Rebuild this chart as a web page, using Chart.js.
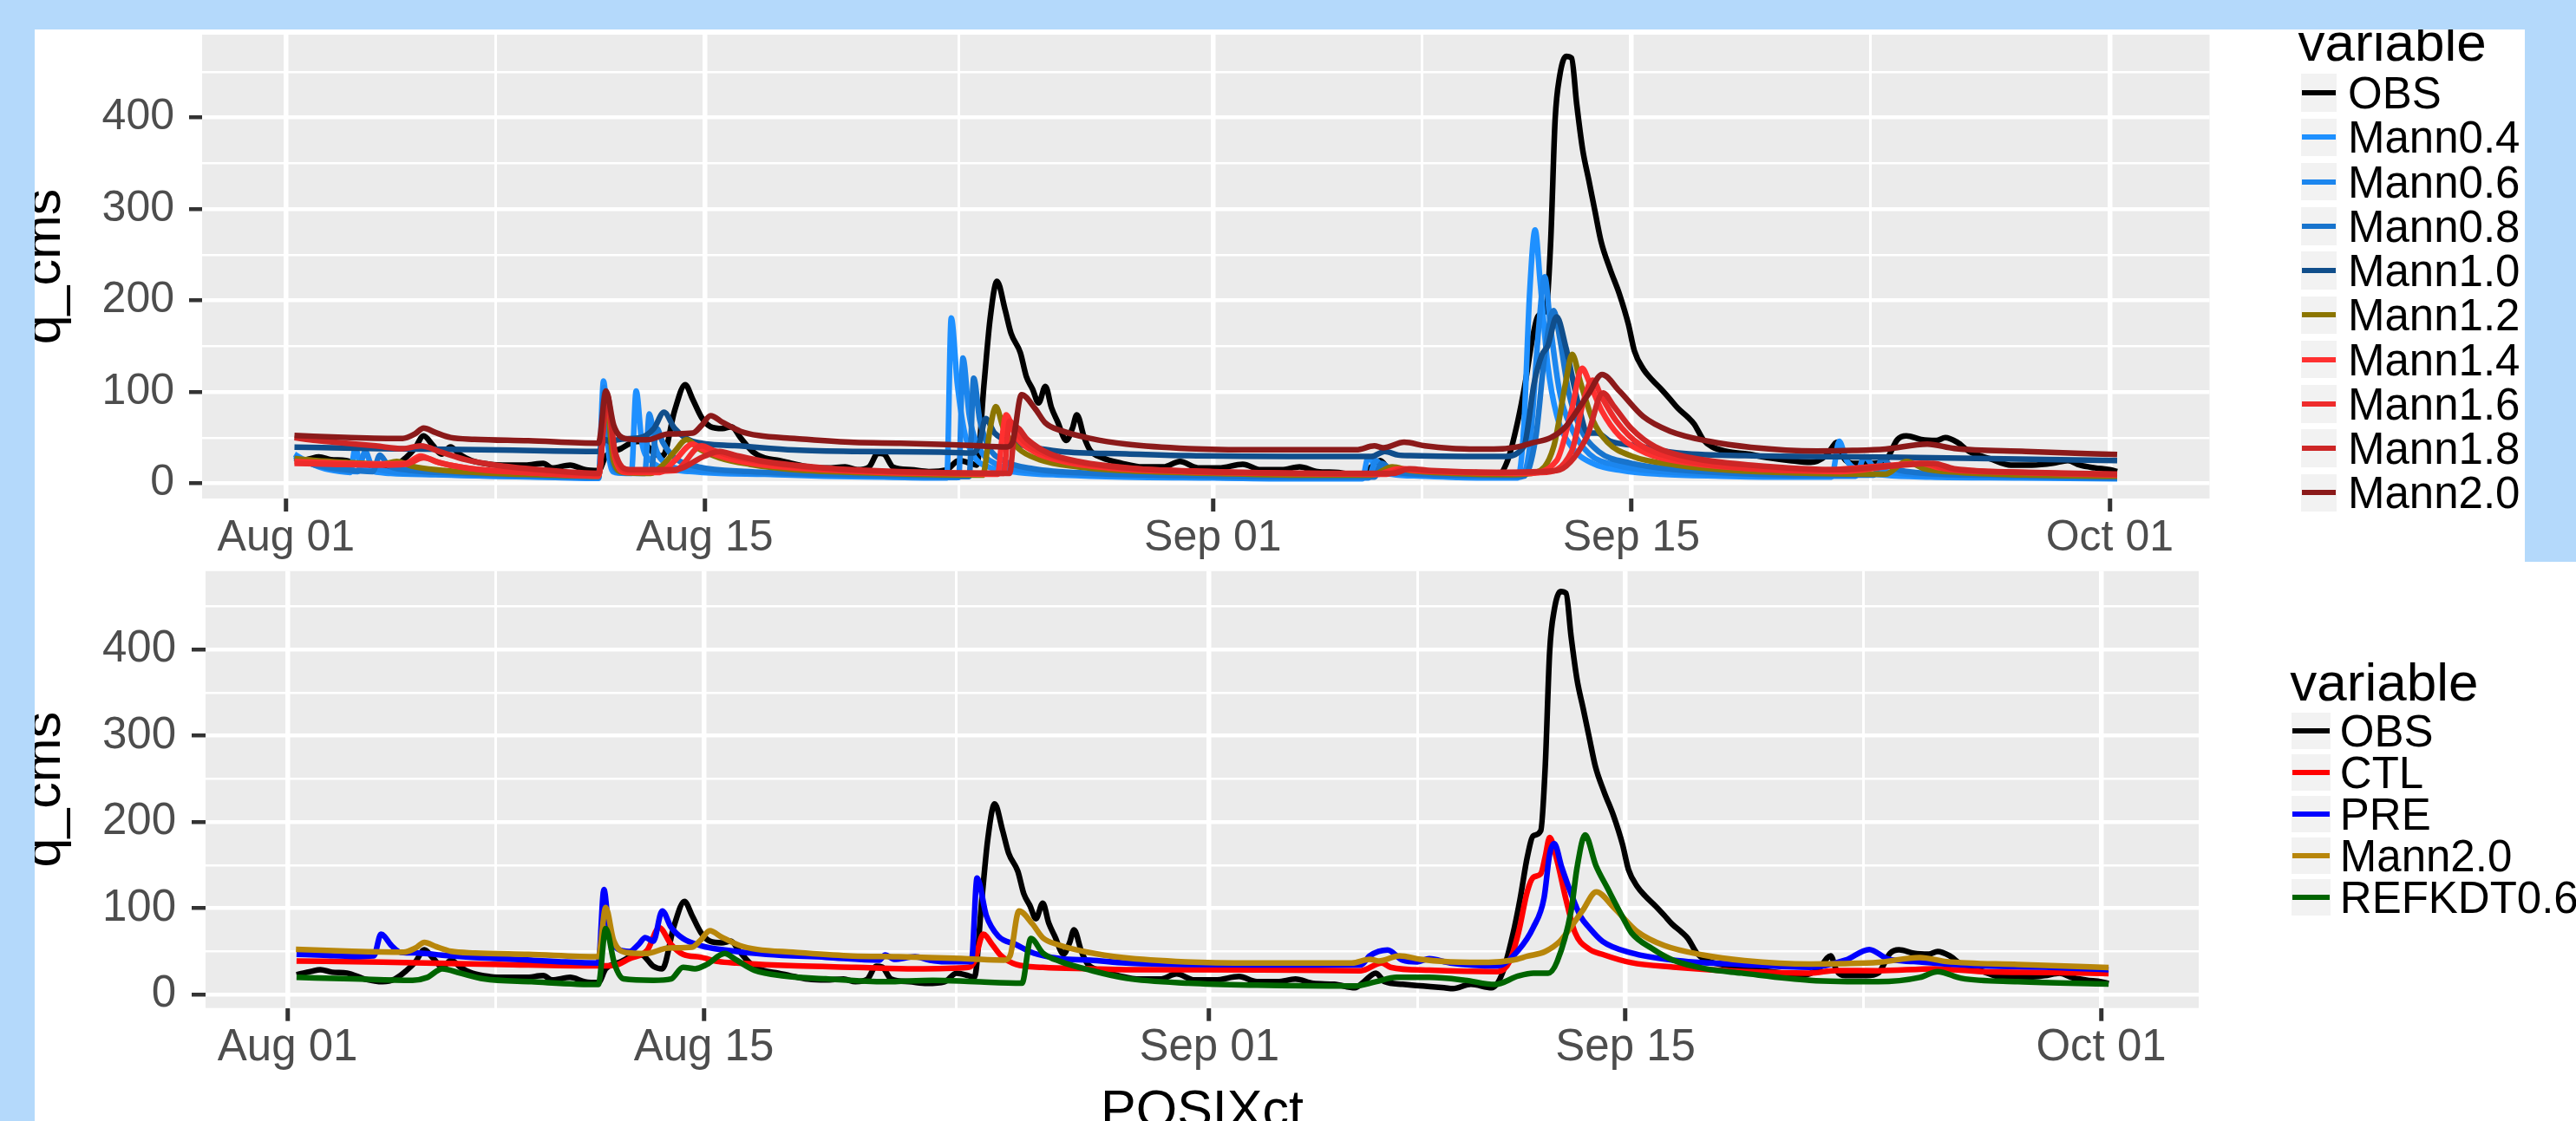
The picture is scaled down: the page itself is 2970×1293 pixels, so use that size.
<!DOCTYPE html>
<html><head><meta charset="utf-8">
<script src="https://cdn.jsdelivr.net/npm/chart.js@4.4.1/dist/chart.umd.min.js"></script>
<style>
html,body{margin:0;padding:0;}
body{width:2970px;height:1293px;overflow:hidden;background:#B4D9FB;position:relative;font-family:"Liberation Sans",Arial,sans-serif;}
.panel{position:absolute;background:#fff;overflow:hidden;}
#top{left:40px;top:34px;width:2871px;height:614px;}
#bot{left:40px;top:648px;width:2930px;height:645px;}
canvas{position:absolute;left:-40px;top:-60px;}
.lg{position:absolute;line-height:1;white-space:nowrap;color:#000;font-family:"Liberation Sans",Arial,sans-serif;}
.key{position:absolute;background:#F2F2F2;}
.key i{position:absolute;display:block;left:1px;right:1px;top:50%;height:6px;margin-top:-3px;}
</style></head><body>
<div id="top" class="panel"><canvas id="c1" width="2600" height="760"></canvas></div>
<div id="bot" class="panel"><canvas id="c2" width="2600" height="760"></canvas></div>
<script>
// ---------- axis tick definitions (days since Aug 01) ----------
const xMajorDays = [0, 14, 31, 45, 61];
const xMajorLabels = ['Aug 01', 'Aug 15', 'Sep 01', 'Sep 15', 'Oct 01'];
const xMinorDays = [7, 22.5, 38, 53];
const yMajorValues = [0, 100, 200, 300, 400];
const yMinorValues = [50, 150, 250, 350, 450];

// ---------- series: [day since Aug 01, q_cms] ----------
const obs = [[0.3,23],[0.8,27],[1.1,29],[1.5,26],[2.0,25],[2.6,18],[3.2,15],[3.6,18],[4.0,28],[4.3,38],[4.6,52],[4.9,42],[5.2,32],[5.5,40],[5.8,32],[6.2,25],[6.8,21],[7.4,20],[8.0,20],[8.6,22],[8.9,17],[9.5,20],[10.0,15],[10.45,14],[10.7,30],[11.2,38],[11.6,45],[11.9,46],[12.3,33],[12.6,30],[13.0,80],[13.35,108],[13.6,92],[13.9,72],[14.2,62],[14.6,60],[14.9,62],[15.2,50],[15.6,35],[16.0,28],[16.5,25],[16.9,22],[17.5,18],[18.1,17],[18.7,18],[19.1,15],[19.5,18],[19.8,33],[20.0,32],[20.3,18],[20.9,15],[21.5,13],[22.1,15],[22.5,25],[22.9,22],[23.1,20],[23.35,110],[23.55,180],[23.78,221],[24.05,190],[24.25,164],[24.56,143],[24.76,117],[24.97,103],[25.17,88],[25.4,106],[25.6,83],[25.8,68],[26.1,47],[26.3,60],[26.45,75],[26.7,50],[26.9,36],[27.3,28],[27.95,22],[28.65,18],[29.35,18],[29.9,24],[30.5,17],[31.2,17],[32.0,21],[32.6,15],[33.3,15],[33.9,18],[34.5,13],[35.2,12],[35.9,8],[36.2,15],[36.6,25],[36.9,15],[37.5,12],[38.2,10],[38.9,8],[39.2,7],[39.8,12],[40.5,8],[40.86,25],[41.2,68],[41.45,110],[41.7,160],[41.9,184],[42.15,190],[42.3,264],[42.45,398],[42.6,445],[42.82,467],[43.0,465],[43.17,415],[43.37,365],[43.58,331],[43.78,298],[43.99,264],[44.29,234],[44.6,207],[44.9,174],[45.1,145],[45.4,125],[45.7,113],[46.0,103],[46.3,92],[46.56,82],[46.9,72],[47.1,65],[47.4,48],[47.7,40],[48.2,35],[48.9,32],[49.6,28],[50.3,25],[51.0,23],[51.5,30],[51.9,45],[52.1,28],[52.4,22],[53.1,22],[53.5,25],[53.9,48],[54.2,52],[54.7,48],[55.2,47],[55.5,50],[55.9,45],[56.3,35],[57.0,27],[57.7,20],[58.4,20],[59.1,22],[59.6,25],[60.0,20],[60.5,17],[61.0,15],[61.25,13]];

const mann04 = [[0.28,32],[0.7,24],[1.2,17],[1.8,13],[2.15,12],[2.31,38],[2.5,20],[2.8,14],[3.5,11],[5,9.5],[7,8],[9,6.5],[10.45,5.5],[10.62,112],[10.8,30],[11.0,12],[11.55,11],[11.71,101],[11.9,45],[12.2,25],[12.8,16],[13.5,13],[14.5,11],[16,10],[18,8],[20,7],[22.1,6],[22.25,181],[22.45,110],[22.7,55],[23.0,30],[23.5,18],[24.5,12],[26,9],[28,7],[31,6],[34,5],[36.0,5],[36.2,29],[36.5,15],[37,10],[38,8],[40,6],[41.2,6],[41.4,60],[41.6,210],[41.78,277],[41.95,220],[42.2,130],[42.5,75],[43,40],[43.7,22],[44.7,14],[46,10],[48,8],[50,7],[51.7,7],[51.95,46],[52.2,25],[52.6,14],[53.5,9],[55,7],[58,6],[61.25,5]];
const mann06 = [[0.28,30],[0.8,22],[1.5,16],[2.4,13],[2.65,35],[2.85,20],[3.3,14],[5,10],[7,8],[9,7],[10.45,6],[10.64,105],[10.85,25],[11.1,12],[12.0,11],[12.15,76],[12.35,40],[12.7,22],[13.5,15],[15,12],[17,9.5],[20,7.5],[22.5,6.5],[22.64,137],[22.85,75],[23.2,38],[23.7,22],[24.7,14],[26.5,10],[29,8],[33,6],[36.2,6],[36.45,25],[36.8,14],[37.5,10],[39,8],[41.3,7],[41.6,40],[41.9,170],[42.1,226],[42.3,170],[42.6,100],[43.0,60],[43.6,32],[44.5,20],[46,13],[48,10],[50.5,8],[52.5,8],[52.8,29],[53.1,18],[54,11],[56,8],[59,6.5],[61.25,5.5]];
const mann08 = [[0.28,28],[1,20],[2,15],[2.9,13],[3.14,31],[3.4,20],[4,15],[6,11],[8,9],[10.45,7],[10.66,100],[10.9,25],[11.2,13],[12.2,12],[12.4,60],[12.6,45],[13.0,28],[13.8,18],[15.5,13],[18,10],[20.5,8.5],[22.85,7.5],[23.0,115],[23.2,70],[23.5,40],[24,25],[25,16],[27,11],[30,8.5],[34,7],[36.4,7],[36.65,22],[37,14],[38,10],[40,8.5],[41.4,8],[41.8,50],[42.1,140],[42.4,189],[42.6,160],[42.9,100],[43.3,60],[43.9,35],[45,22],[46.5,15],[48.5,11],[51,9],[53.1,9],[53.4,27],[53.7,18],[54.5,12],[57,9],[61.25,6]];
const mann10 = [[0.28,39.7],[3.1,38.1],[7.1,36.5],[10.45,34.9],[10.68,48],[10.9,44],[11.06,47.6],[11.85,50.2],[12.3,60],[12.64,77.8],[13.0,60],[13.6,46],[15,41.3],[17,36.5],[19,34.9],[21.9,34.3],[23.0,33.3],[23.2,45],[23.4,71],[23.7,55],[24.3,45],[25.9,35],[28.1,32.4],[30.2,30.4],[36.3,29.4],[36.75,35],[37.2,31],[37.6,30.4],[40.7,29.4],[41.4,40],[41.75,110],[42.0,140],[42.2,150],[42.5,182],[42.8,150],[43.2,90],[43.55,55],[43.85,55],[44.3,46],[45.1,41.5],[46.5,33.5],[48.8,30.4],[53.5,28.8],[57,27],[61.25,25]];
const mann12 = [[0.28,27],[1,25],[2,23],[3.2,21],[3.7,24],[4.2,19],[5,15],[7,11],[9,9],[10.45,8],[10.7,95],[10.95,25],[11.3,12],[12.2,11],[12.6,20],[13.0,35],[13.4,48],[13.8,38],[14.5,28],[15.5,21],[17,15],[19,12],[21,10],[23.3,9],[23.55,60],[23.74,84],[24.0,60],[24.5,38],[25.2,26],[26.5,18],[28,14],[31,11],[34,9],[36.3,9],[37,18],[37.6,14],[39,11],[41,9.5],[41.8,12],[42.4,40],[42.8,110],[43.02,141],[43.3,110],[43.7,70],[44.2,45],[45,30],[46.5,20],[48.5,14],[51,11],[53.5,10],[54.2,24],[54.8,16],[56,12],[58.5,9],[61.25,8]];
const mann14 = [[0.28,24],[1,23],[2,22],[3,21.5],[4,22],[4.5,30],[5,24],[6,17],[7.5,13],[9,10],[10.45,8],[10.72,98],[11.0,28],[11.4,12],[12.5,12],[13.0,25],[13.6,43],[14.0,36],[14.8,27],[16,20],[18,15],[20,12],[22,11],[23.8,10],[23.95,50],[24.08,75],[24.4,52],[25,35],[26,24],[27.5,17],[30,13],[33,11],[36.5,10],[37.2,16],[37.8,14],[39.5,12],[41.5,11],[42.5,25],[43.0,80],[43.35,126],[43.6,110],[44,80],[44.6,52],[45.5,33],[47,22],[49,16],[52,13],[54.7,22],[55.3,17],[57,13],[61.25,10]];
const mann16 = [[0.28,22],[1.5,21],[3,20],[4,21],[4.6,28],[5.2,22],[6.5,15],[8,12],[10.45,9],[10.73,96],[11.0,30],[11.5,13],[13,14],[13.9,41],[14.3,36],[15,29],[16.5,21],[18.5,15],[21,12],[24.0,11],[24.2,68],[24.5,52],[25.2,35],[26.3,24],[28,17],[31,13],[34,11],[36.8,10],[37.4,16],[38,14],[40,12],[42,12],[43,35],[43.4,90],[43.7,113],[44,95],[44.5,68],[45.3,42],[46.5,27],[48,19],[51,14],[54.9,22],[55.5,16],[58,12],[61.25,9]];
const mann18 = [[0.28,50],[1,47],[2,44],[3,41],[3.9,38],[4.5,41],[5.2,34],[6,26],[7,20],[8.5,15],[10.45,11],[10.74,97],[11.0,35],[11.5,15],[13,15],[14,30],[14.5,35],[15,31],[16,24],[18,17],[20.5,13],[24.2,11],[24.4,62],[24.8,48],[25.5,33],[26.5,24],[28.5,16],[32,12],[37,11],[37.6,16],[38.3,14],[40.5,12],[42.5,14],[43.5,50],[44.05,99],[44.4,85],[45,60],[45.8,40],[47,28],[49,20],[52,15],[55.1,22],[55.8,16],[58.5,12],[61.25,10]];
const mann20 = [[0.28,52.4],[2.16,50.2],[3.9,49.2],[4.3,54],[4.6,60.5],[5.0,55.6],[5.5,50.2],[6.3,48.3],[8.1,46.7],[10.45,44],[10.7,101],[10.96,63.5],[11.35,49],[12.05,47.6],[12.8,54],[13.6,55],[13.9,63.5],[14.2,74],[14.6,66.7],[15.2,57],[15.8,52.4],[17.0,49.2],[19.0,44.8],[20.55,44],[22.1,42.5],[22.9,41.5],[24.1,40],[24.3,45],[24.6,97],[25.05,82],[25.4,66],[25.9,58],[26.9,49.2],[28.1,42.9],[30.2,38],[32.5,36.7],[35.8,36.7],[36.4,41],[36.7,39],[37.4,45],[38.1,41],[39.0,38.3],[40.4,37.5],[41.2,40],[41.7,44.5],[42.3,50],[42.8,62],[43.2,80],[43.55,97],[44.02,119],[44.6,101],[45.4,73],[46.3,57],[47.6,46],[49,39.5],[51.2,35.5],[52.4,36],[53.5,37.5],[54.9,43],[55.8,38.3],[58.2,35],[61.25,31.5]];

const ctl = [[0.3,39],[3.2,37.7],[7.2,35],[10.4,33.3],[11.0,34],[11.5,41.7],[12.1,51.7],[12.5,77.7],[12.9,58],[13.3,46.7],[13.9,43.3],[14.5,38.3],[15.1,36.7],[17.1,33.3],[19.1,31.7],[21.1,30],[22.9,31.7],[23.1,38.3],[23.4,70],[23.7,58],[24.0,45],[24.5,35],[25.4,31.7],[27.0,30],[28.2,29],[30.3,29],[33.8,28.3],[36.1,27.7],[36.8,36.7],[37.1,31.7],[38.4,28.3],[40.7,26.7],[41.1,38.3],[41.4,72],[41.7,120],[41.9,136],[42.15,140],[42.3,160],[42.45,182],[42.7,155],[43.0,110],[43.3,72],[43.77,53],[44.2,47],[45.2,37],[46.6,32],[48.9,27],[51.2,25],[52.1,28],[53.5,27.7],[55.4,30],[57.0,26.7],[59.3,25.7],[61.25,24.3]];
const pre = [[0.3,46.7],[1.2,45.7],[2.2,44.3],[2.9,45],[3.14,70],[3.5,56.7],[3.8,49],[4.4,48.3],[5.2,45.7],[6.2,43.3],[7.2,41.7],[8.2,40],[9.1,38.3],[10.45,36.7],[10.64,121.7],[10.8,78],[11.1,53],[11.5,50],[11.8,58],[12.03,66],[12.3,62],[12.6,97],[12.9,78],[13.3,65],[13.9,56.7],[14.7,51.7],[16.1,46.7],[18.1,43.3],[19.9,40],[20.1,46],[20.4,41],[21.1,44],[21.6,40],[22.1,38.3],[23.0,38.3],[23.19,135],[23.5,91.7],[23.9,68],[24.5,58],[25.1,48],[26.0,41.7],[27.0,40],[28.2,36.7],[30.3,35],[32.6,34.3],[36.1,34.3],[36.4,45],[37.0,51.7],[37.5,40],[38.0,38],[38.4,41.7],[39.1,36.7],[40.7,33.3],[41.4,51.7],[41.9,78],[42.26,112],[42.45,163],[42.6,175],[42.86,147],[43.17,117],[43.5,90],[43.77,78],[44.23,61.7],[45.2,48.3],[46.6,40],[48.9,35],[51.2,31.7],[52.4,40],[53.2,52.3],[53.8,41.7],[54.7,38.3],[57.0,33.3],[59.3,31.7],[61.25,29]];
const refkdt = [[0.3,20],[2.2,18.3],[4.2,16.7],[4.7,20],[5.2,30],[5.8,25],[6.6,18.3],[8.2,15],[10.45,11.7],[10.7,76.7],[11.0,35],[11.3,18.3],[12.3,16.7],[12.9,18.3],[13.3,31.7],[13.7,30],[14.1,35],[14.7,47.7],[15.1,40],[15.7,28.3],[16.7,21.7],[18.1,18.3],[20.1,15],[21.7,16.7],[23.1,15],[24.7,13.3],[25.0,65],[25.4,48.3],[26.0,38.3],[27.0,28.3],[28.2,19],[30.3,13.3],[32.6,11],[35.9,10],[36.6,15],[37.3,20],[38.4,20],[39.6,16.7],[40.6,11.7],[41.4,21.7],[41.9,25],[42.4,25],[42.7,38.3],[43.17,97],[43.37,147],[43.64,185],[44.0,150],[44.4,123],[44.9,90],[45.2,71.7],[45.9,53.3],[46.6,40],[47.7,30],[48.9,25],[51.2,16.7],[53.5,15],[54.9,20],[55.5,26.7],[56.3,19],[58.2,15],[61.25,12.3]];

const topNames = ['OBS','Mann0.4','Mann0.6','Mann0.8','Mann1.0','Mann1.2','Mann1.4','Mann1.6','Mann1.8','Mann2.0'];
const topSeries = [obs, mann04, mann06, mann08, mann10, mann12, mann14, mann16, mann18, mann20];
const botNames = ['OBS','CTL','PRE','Mann2.0','REFKDT0.6'];
const botSeries = [obs, ctl, pre, mann20, refkdt];

// ---------- styles ----------
const topColors = ['#000000','#1E90FF','#1C86EE','#1874CD','#104E8B','#8B7500','#FF3030','#EE2C2C','#CD2626','#8B1A1A'];
const botColors = ['#000000','#FF0000','#0000FF','#B8860B','#006400'];
const FONT = '"Liberation Sans", Arial, Helvetica, sans-serif';

const panelBg = {
  id: 'panelBg',
  beforeDraw(chart) {
    const a = chart.chartArea, ctx = chart.ctx;
    ctx.save(); ctx.fillStyle = '#EBEBEB';
    ctx.fillRect(a.left, a.top, a.right - a.left, a.bottom - a.top);
    ctx.restore();
  }
};

function drawPanel(canvasId, names, colors, series, g) {
  const datasets = series.map((d, i) => ({
    label: names[i], data: d, borderColor: colors[i], backgroundColor: colors[i],
    borderWidth: 6.5, pointRadius: 0, pointHoverRadius: 0, fill: false,
    cubicInterpolationMode: 'monotone', borderJoinStyle: 'round', borderCapStyle: 'butt',
    order: series.length - i
  }));
  const majX = c => c.tick && xMajorDays.includes(c.tick.value);
  const majY = c => c.tick && yMajorValues.includes(c.tick.value);
  return new Chart(document.getElementById(canvasId), {
    type: 'line',
    data: { datasets },
    options: {
      responsive: false, animation: false, devicePixelRatio: 1, events: [],
      layout: { padding: g.pad },
      plugins: { legend: { display: false }, tooltip: { enabled: false } },
      scales: {
        x: {
          type: 'linear', min: g.xMin, max: g.xMax,
          afterBuildTicks: s => { s.ticks = xMajorDays.concat(xMinorDays).sort((a, b) => a - b).map(v => ({ value: v })); },
          afterFit: s => { s.height = g.xAxisH; },
          ticks: {
            autoSkip: false, maxRotation: 0, minRotation: 0, color: '#4D4D4D', padding: g.xTickPad,
            font: { family: FONT, size: g.tickSize, lineHeight: 0.8 },
            callback: v => { const k = xMajorDays.indexOf(v); return k >= 0 ? xMajorLabels[k] : ''; }
          },
          grid: {
            color: '#FFFFFF', lineWidth: c => majX(c) ? 5.5 : 3,
            tickColor: c => majX(c) ? '#333333' : 'rgba(0,0,0,0)', tickWidth: 5, tickLength: 15, drawTicks: true
          },
          border: { display: false },
          title: g.xTitle ? { display: true, text: g.xTitle, color: '#000', font: { family: FONT, size: 61, lineHeight: 1.2 }, padding: { top: 4, bottom: 4 } } : { display: false }
        },
        y: {
          type: 'linear', min: g.yMin, max: g.yMax,
          afterBuildTicks: s => { s.ticks = yMajorValues.concat(yMinorValues).sort((a, b) => a - b).map(v => ({ value: v })); },
          afterFit: s => { s.width = g.yAxisW; },
          ticks: {
            autoSkip: false, color: '#4D4D4D', padding: g.yTickPad,
            font: { family: FONT, size: g.tickSize, lineHeight: 1.2 },
            callback: v => yMajorValues.includes(v) ? String(v) : ''
          },
          grid: {
            color: '#FFFFFF', lineWidth: c => majY(c) ? 4.5 : 2.5,
            tickColor: c => majY(c) ? '#333333' : 'rgba(0,0,0,0)', tickWidth: 4.5, tickLength: g.yTickLen, drawTicks: true
          },
          border: { display: false },
          title: { display: true, text: 'q_cms', color: '#000', font: { family: FONT, size: 61, lineHeight: 1.2 }, padding: { top: g.yTitlePad, bottom: 0 } }
        }
      }
    },
    plugins: [panelBg]
  });
}

function addLegend(panelId, names, colors, L) {
  const p = document.getElementById(panelId);
  const t = document.createElement('div');
  t.className = 'lg'; t.textContent = 'variable';
  t.style.left = L.titleX + 'px'; t.style.top = L.titleTop + 'px'; t.style.fontSize = L.titleSize + 'px';
  p.appendChild(t);
  names.forEach((n, i) => {
    const cy = L.y0 + L.step * i;
    const k = document.createElement('div');
    k.className = 'key';
    k.style.left = L.keyX + 'px'; k.style.top = (cy - L.keyH / 2) + 'px';
    k.style.width = L.keyW + 'px'; k.style.height = L.keyH + 'px';
    const ln = document.createElement('i'); ln.style.background = colors[i];
    k.appendChild(ln); p.appendChild(k);
    const lb = document.createElement('div');
    lb.className = 'lg'; lb.textContent = n;
    lb.style.left = L.labelX + 'px'; lb.style.top = cy + 'px'; lb.style.fontSize = L.labelSize + 'px';
    lb.style.transform = 'translateY(-50%)';
    p.appendChild(lb);
  });
}

drawPanel('c1', topNames, topColors, topSeries, {
  xMin: -2.81, xMax: 64.34, yMin: -16.5, yMax: 490.6,
  pad: { left: 0, top: 66, right: 52.5, bottom: 59 },
  yAxisW: 233, xAxisH: 100, tickSize: 50, xTickPad: 11, yTickPad: 17, yTickLen: 15, yTitlePad: 15.4, xTitle: null
});
drawPanel('c2', botNames, botColors, botSeries, {
  xMin: -2.76, xMax: 64.28, yMin: -15.5, yMax: 490.7,
  pad: { left: 0, top: 70.7, right: 65, bottom: 24.4 },
  yAxisW: 237, xAxisH: 160.9, tickSize: 51, xTickPad: 10.8, yTickPad: 18, yTickLen: 16, yTitlePad: 15.8, xTitle: 'POSIXct'
});

addLegend('top', topNames, topColors, { titleX: 2609.6, titleTop: -16, titleSize: 62, y0: 73, step: 51.25, keyX: 2612.6, keyW: 41.4, keyH: 43.5, labelX: 2667, labelSize: 51 });
addLegend('bot', botNames, botColors, { titleX: 2600.3, titleTop: 107.5, titleSize: 62, y0: 194.8, step: 48, keyX: 2602, keyW: 44.7, keyH: 42, labelX: 2657.8, labelSize: 51 });
</script>
</body></html>
